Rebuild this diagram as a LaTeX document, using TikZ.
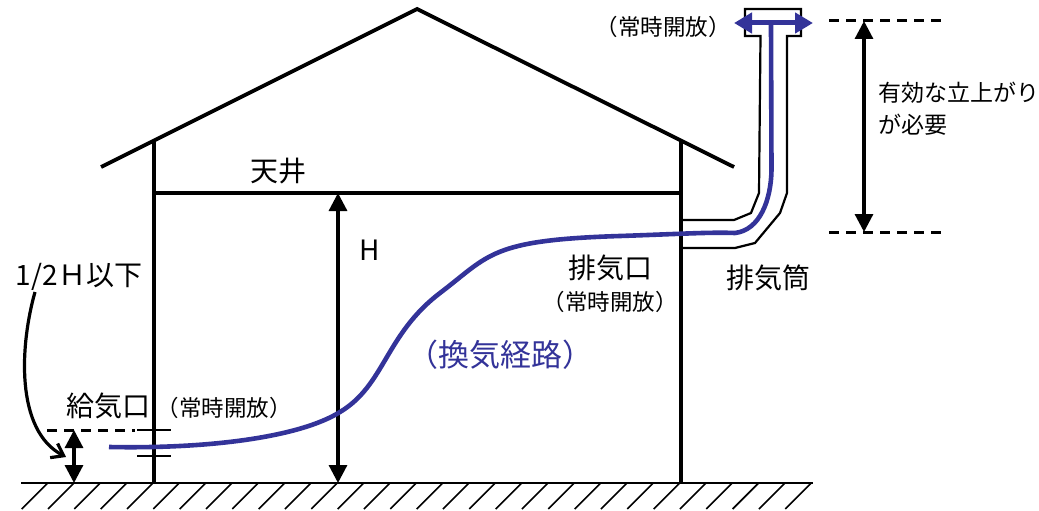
\documentclass[tikz,border=0pt]{standalone}
\usepackage{fontspec}
\usepackage{color}
\setmainfont{Noto Sans CJK JP}
\usetikzlibrary{arrows.meta}
\definecolor{route}{RGB}{51,51,153}
\tikzset{
  wall/.style     = {draw, line width=3.8pt},
  duct/.style     = {draw, line width=2.2pt},
  thin/.style     = {draw, line width=1.8pt},
  dim/.style      = {draw, line width=3.2pt, {Triangle[length=18pt,width=18pt]}-{Triangle[length=18pt,width=18pt]}},
  level/.style    = {draw, line width=3pt, dash pattern=on 10pt off 7pt},
  vent/.style     = {draw=route, line width=4.6pt},
  big/.style      = {font=\fontsize{28}{30}\selectfont, inner sep=0pt},
  mid/.style      = {font=\fontsize{23}{32}\selectfont, inner sep=0pt, align=left},
  small/.style    = {font=\fontsize{22.5}{24}\selectfont, inner sep=0pt},
}

\begin{document}
\begin{tikzpicture}
  [
    x = 1pt,
    y = -1pt,
  ]
  \useasboundingbox (0,0) rectangle (1039,511);
  % ground
  \coordinate (gl) at (21,483);
  \coordinate (gr) at (813,483);
  \draw [line width=2.2pt] (gl) -- (gr);
  \foreach \i in {0,...,29}
    \draw [line width=1.6pt] (47.7+26.33*\i,483) -- ++(-26,26);
  % house
  \coordinate (eaveL) at (101,167);
  \coordinate (ridge) at (417,9);
  \coordinate (eaveR) at (734,167);
  \coordinate (wallLt) at (154,141);
  \coordinate (wallLb) at (154,483);
  \coordinate (wallRt) at (681,141);
  \coordinate (wallRb) at (681,483);
  \coordinate (ceilL) at (154,193);
  \coordinate (ceilR) at (681,193);
  \draw [wall] (eaveL) -- (ridge) -- (eaveR);
  \draw [wall] (wallLt) -- (wallLb);
  \draw [wall] (wallRt) -- (wallRb);
  \draw [wall] (ceilL) -- (ceilR);
  % exhaust duct
  \coordinate (ductA) at (681,220);
  \coordinate (ductB) at (681,248);
  \draw [duct] (ductA) -- (734,220) -- (751,213) -- (759,193) -- (760.5,36)
    -- (745,36) -- (745,9) -- (801,9) -- (801,36) -- (787,36)
    -- (787,193) -- (780,213) -- (755,243) -- (735,248) -- (ductB);
  % inlet
  \draw [thin] (137,430) -- (171,430);
  \draw [thin] (137,456) -- (171,456);
  % levels
  \coordinate (inletL) at (47,430);
  \coordinate (inletR) at (135,430);
  \coordinate (topL) at (829,21);
  \coordinate (topR) at (945,21);
  \coordinate (botL) at (829,232);
  \coordinate (botR) at (945,232);
  \draw [level] (inletL) -- (inletR);
  \draw [level] (topL) -- (topR);
  \draw [level] (botL) -- (botR);
  % dimensions
  \coordinate (hTop) at (338,193);
  \coordinate (hBot) at (338,483);
  \coordinate (iTop) at (74,430);
  \coordinate (iBot) at (74,483);
  \coordinate (rTop) at (864,21);
  \coordinate (rBot) at (864,232);
  \draw [dim] (hTop) -- (hBot);
  \draw [dim] (iTop) -- (iBot);
  \draw [dim] (rTop) -- (rBot);
  % ventilation route
  \coordinate (ventIn) at (109,447);
  \coordinate (ventUp) at (771,25);
  \coordinate (ventL) at (734,23);
  \coordinate (ventR) at (813,23);
  \draw [vent] (ventIn) .. controls (210,449) and (300,437) .. (340,412)
    .. controls (385,385) and (385,335) .. (440,293)
    .. controls (490,255) and (490,240) .. (620,236)
    .. controls (680,234) and (710,232) .. (735,233)
    .. controls (760,230) and (771,200) .. (771.5,170) -- (ventUp);
  \draw [draw=route, line width=5pt, {Triangle[length=18pt,width=20pt]}-{Triangle[length=18pt,width=20pt]}]
    (ventL) -- (ventR);
  % labels
  \node [big]   (ceiling) at (278,171) {天井};
  \node [big]   (heightH) at (370,250) {H};
  \node [big]   (outlet)  at (610,268) {排気口};
  \node [small] (outletO) at (610,302) {（常時開放）};
  \node [big]   (stack)   at (768,278) {排気筒};
  \node [big]   (inlet)   at (108,406) {給気口};
  \node [small] (inletO)  at (224,408) {（常時開放）};
  \node [small] (topO)    at (663,27)  {（常時開放）};
  \node [big, text=route, font=\fontsize{31}{34}\selectfont] (routeL) at (500,355) {（換気経路）};
  \node [mid, anchor=north west] (need) at (878,82) {有効な立上がり\\が必要};
  \node [big]   (half)    at (79,277) {1/2Ｈ以下};
  % leader
  \coordinate (leaderEnd) at (66,457);
  \draw [line width=3.2pt, -{Straight Barb[length=11pt,width=16pt]}]
    (35,292) .. controls (20,345) and (15,430) .. (leaderEnd);
\end{tikzpicture}
\end{document}
